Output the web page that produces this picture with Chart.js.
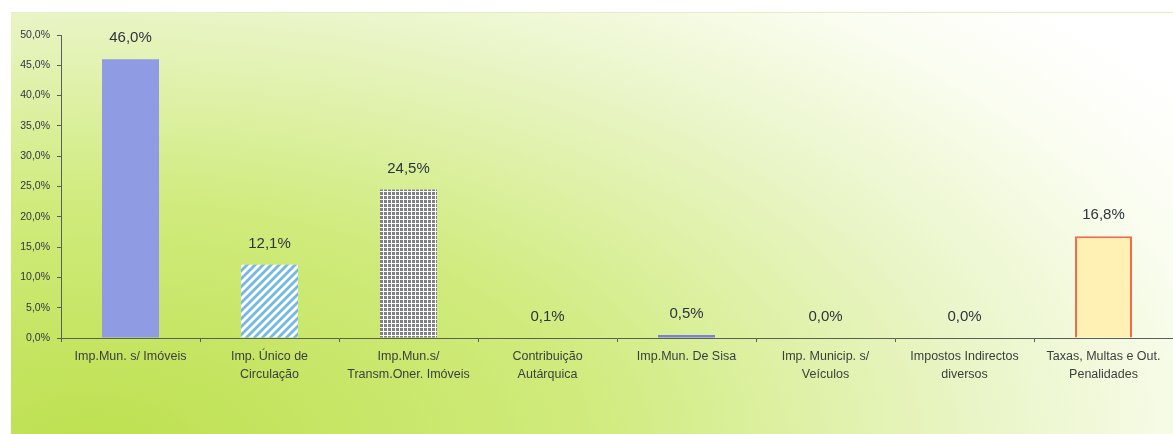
<!DOCTYPE html>
<html>
<head>
<meta charset="utf-8">
<script src="https://cdn.jsdelivr.net/npm/chart.js@4.4.0/dist/chart.umd.min.js"></script>
<style>
  html, body { margin: 0; padding: 0; background: #fff; overflow: hidden; }
  #wrap { position: relative; width: 1173px; height: 434px; }
  #bg {
    position: absolute; left: 11px; top: 12px; right: 0; bottom: 0;
    border-top: 1px solid #e6ebc2;
    background: radial-gradient(ellipse 1300px 640px at 80px 434px,
      #bde04f 0%, #d0eb7c 38%, #e9f5c6 68%, #fafdf0 88%, #ffffff 100%);
  }
  #chartbar { position: absolute; left: 0; top: 0; }
</style>
</head>
<body>
<div id="wrap">
  <div id="bg"></div>
  <canvas id="chartbar" width="1173" height="434"></canvas>
</div>
<script>
const categories = [
  ['Imp.Mun. s/ Imóveis'],
  ['Imp. Único de', 'Circulação'],
  ['Imp.Mun.s/', 'Transm.Oner. Imóveis'],
  ['Contribuição', 'Autárquica'],
  ['Imp.Mun. De Sisa'],
  ['Imp. Municip. s/', 'Veículos'],
  ['Impostos Indirectos', 'diversos'],
  ['Taxas, Multas e Out.', 'Penalidades']
];
const shares = [46.0, 12.1, 24.5, 0.1, 0.5, 0.0, 0.0, 16.8];
const yMax = 50;
const yStep = 5;

function pct(v) {
  return v.toFixed(1).replace('.', ',') + '%';
}

// hatched fill: light blue diagonal stripes on white
function stripes() {
  const c = document.createElement('canvas');
  c.width = 8; c.height = 8;
  const g = c.getContext('2d');
  g.fillStyle = '#ffffff';
  g.fillRect(0, 0, 8, 8);
  g.strokeStyle = '#74b8e5';
  g.lineWidth = 2.8;
  g.beginPath();
  g.moveTo(0, 8); g.lineTo(8, 0);
  g.moveTo(-2, 2); g.lineTo(2, -2);
  g.moveTo(6, 10); g.lineTo(10, 6);
  g.stroke();
  return g.createPattern(c, 'repeat');
}

// grid of small grey squares
function dots() {
  const c = document.createElement('canvas');
  c.width = 4; c.height = 4;
  const g = c.getContext('2d');
  g.fillStyle = '#ffffff';
  g.fillRect(0, 0, 4, 4);
  g.fillStyle = '#808087';
  g.fillRect(0, 0, 3, 3);
  return g.createPattern(c, 'repeat');
}

const valueLabels = {
  id: 'valueLabels',
  afterDatasetsDraw(chart) {
    const ctx = chart.ctx;
    const meta = chart.getDatasetMeta(0);
    ctx.save();
    ctx.font = '15px Arial, "Liberation Sans", sans-serif';
    ctx.fillStyle = '#2f333d';
    ctx.textAlign = 'center';
    ctx.textBaseline = 'middle';
    meta.data.forEach((bar, i) => {
      ctx.fillText(pct(shares[i]), bar.x, bar.y - 21);
    });
    ctx.restore();
  }
};

const ctx = document.getElementById('chartbar').getContext('2d');

const chartbar = new Chart(ctx, {
  type: 'bar',
  data: {
    labels: categories,
    datasets: [{
      data: shares,
      backgroundColor: ['#8f9be2', stripes(), dots(), '#6d7a70', '#7d80d6', '#8f9be2', '#8f9be2', '#fff1b4'],
      borderColor: ['#8f9be2', 'rgba(0,0,0,0)', 'rgba(0,0,0,0)', '#6d7a70', '#7d80d6', '#8f9be2', '#8f9be2', '#f26b4c'],
      borderWidth: [0, 0, 0, 0, 0, 0, 0, 2],
      categoryPercentage: 1,
      barPercentage: 0.41
    }]
  },
  plugins: [valueLabels],
  options: {
    responsive: false,
    animation: false,
    devicePixelRatio: 1,
    layout: { padding: { top: 35, right: 0, left: 0, bottom: 0 } },
    plugins: {
      legend: { display: false },
      tooltip: { enabled: false }
    },
    scales: {
      x: {
        afterFit(scale) { scale.height = 96; },
        grid: { drawOnChartArea: false, tickLength: 4, color: '#5a5f58' },
        border: { color: '#5a5f58', width: 1 },
        ticks: {
          maxRotation: 0,
          autoSkip: false,
          padding: 6,
          color: '#3a3f3c',
          font: { family: 'Arial, "Liberation Sans", sans-serif', size: 12.5, lineHeight: 1.4 }
        }
      },
      y: {
        min: 0,
        max: yMax,
        afterFit(scale) { scale.width = 61; },
        grid: { drawOnChartArea: false, tickLength: 4, color: '#5a5f58' },
        border: { color: '#5a5f58', width: 1 },
        ticks: {
          stepSize: yStep,
          padding: 7,
          color: '#30353f',
          font: { family: 'Arial, "Liberation Sans", sans-serif', size: 10.5 },
          callback: v => pct(v)
        }
      }
    }
  }
});
</script>
</body>
</html>
